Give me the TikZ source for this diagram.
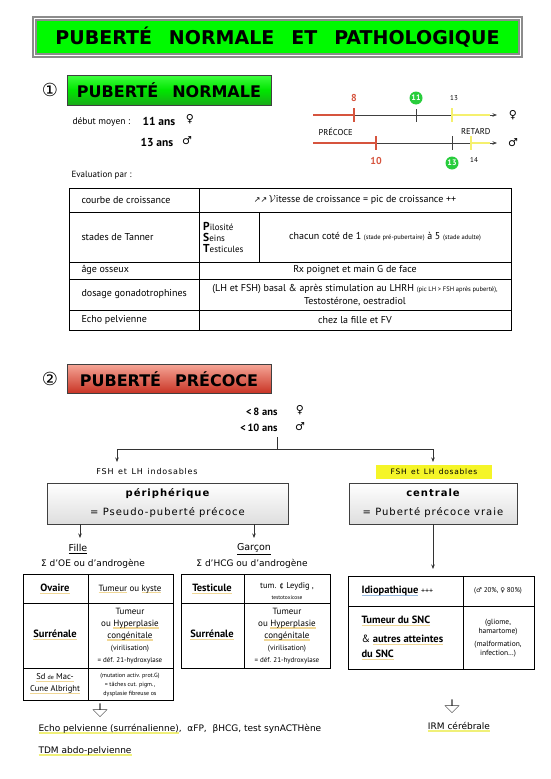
\documentclass[tikz,border=0pt]{standalone}
\usepackage{fontspec}
\usetikzlibrary{arrows.meta,shapes.arrows}
\setmainfont{PT Sans}
\newfontfamily\symf{DejaVu Sans}
\newfontfamily\luc{DejaVu Sans}
\newfontfamily\lucw[LetterSpace=10]{DejaVu Sans}
\newfontfamily\hdrf{DejaVu Sans}

\definecolor{titlegreen}{RGB}{0,250,0}
\definecolor{tlred}{RGB}{214,84,62}
\definecolor{tlyellow}{RGB}{245,240,110}
\definecolor{circgreen}{RGB}{40,205,60}
\definecolor{ulorange}{RGB}{240,215,150}
\definecolor{ulblue}{RGB}{150,185,225}
\definecolor{ulyellow}{RGB}{240,240,120}
\definecolor{hlyellow}{RGB}{245,245,40}

\newcommand\ulc[2]{\leavevmode\setbox0\hbox{#2}\rlap{\textcolor{#1}{\rule[-2.2pt]{\wd0}{1.3pt}}}\box0\relax}
\newcommand\ulo[1]{\ulc{ulorange}{#1}}
\newcommand\fs[1]{\fontsize{#1}{#1}\selectfont}

\tikzset{
  hdr/.style={draw=black!75, line width=.8pt, inner sep=0pt, minimum width=204pt, font=\hdrf\bfseries\fs{16}},
  graybox/.style={draw=black!75, line width=.8pt, top color=white, bottom color=black!13, inner sep=0pt, minimum height=41pt, align=center},
  arr/.style={draw=black!80, line width=.6pt, -{Stealth[length=4.5pt,width=3.5pt]}},
  hollow/.style={single arrow, draw=black!80, fill=white, shape border rotate=270, minimum height=13pt, minimum width=14pt, single arrow head extend=3.5pt, inner sep=0pt},
  tab/.style={line width=.9pt},
  circ/.style={circle, fill=circgreen, text=white, inner sep=0pt, minimum size=13pt, font=\bfseries\fs{8}},
}

\begin{document}
\begin{tikzpicture}[x=1pt,y=-1pt]
\useasboundingbox (0,0) rectangle (551,779);

\node[draw=black!45, line width=1.4pt, double=white, double distance=1.6pt, fill=titlegreen, minimum width=486pt, minimum height=37pt, inner sep=0pt] (title) at (277.5,37)
  {\hdrf\bfseries\fs{19}PUBERTÉ\hspace{17pt}NORMALE\hspace{17pt}ET\hspace{17pt}PATHOLOGIQUE};

\node[font=\symf\fs{18}] (one) at (50,90) {①};
\node[hdr, minimum height=30pt, top color=green!75!white, bottom color={rgb,255:red,25;green,170;blue,25}, middle color=green!90!black] (norm) at (169,90) {PUBERTÉ\hspace{14pt}NORMALE};

\node[anchor=west, font=\fs{9.5}] (debut) at (69,122) {début moyen :};
\node[anchor=west, font=\bfseries\fs{11.5}] (a11) at (139,121) {11 ans};
\node[font=\symf\fs{11}] (f1) at (190,119) {♀};
\node[anchor=west, font=\bfseries\fs{11.5}] (a13) at (137,142) {13 ans};
\node[font=\symf\fs{11}] (m1) at (187,141) {♂};

\draw[black!75, line width=.6pt, -{Stealth[length=4.5pt,width=3.5pt]}] (354,115) -- (497,115);
\draw[tlred, line width=2.2pt] (313,115) -- (354,115);
\draw[tlred, line width=1.2pt] (354,108) -- (354,122);
\draw[black!75, line width=.8pt] (416,109) -- (416,122);
\draw[tlyellow, line width=2.4pt] (452,115) -- (490,115);
\draw[tlyellow, line width=1.4pt] (452,108) -- (452,122);
\draw[black!75, line width=.6pt, -{Stealth[length=4.5pt,width=3.5pt]}] (376,143) -- (497,143);
\draw[tlred, line width=2.2pt] (313,143) -- (376,143);
\draw[tlred, line width=1.2pt] (376,136) -- (376,150);
\draw[black!75, line width=.8pt] (452,136) -- (452,150);
\draw[tlyellow, line width=2.4pt] (471,143) -- (490,143);
\draw[tlyellow, line width=1.4pt] (471,136) -- (471,150);
\node[text=tlred, font=\bfseries\fs{10}] (n8) at (354,98) {8};
\node[circ] (n11) at (416,98) {11};
\node[font=\fs{7}] (n13) at (454,98) {13};
\node[font=\symf\fs{11}] (f2) at (513,115) {♀};
\node[anchor=west, font=\fs{8.5}] (prec) at (315,132) {PRÉCOCE};
\node[anchor=east, font=\fs{8.5}] (ret) at (494,132) {RETARD};
\node[font=\symf\fs{11}] (m2) at (513,143) {♂};
\node[text=tlred, font=\bfseries\fs{10}] (n10) at (376,161) {10};
\node[circ] (c13) at (452,163) {13};
\node[font=\fs{7}] (n14) at (474,160) {14};

\node[anchor=west, font=\fs{9}] (eval) at (68,175) {Evaluation par :};

\draw[tab] (69,188) rectangle (511,330);
\draw[tab] (69,212) -- (511,212) (69,262) -- (511,262) (69,279) -- (511,279) (69,310) -- (511,310);
\draw[tab] (199,188) -- (199,330) (259,212) -- (259,262);
\begin{scope}[every node/.style={font=\fs{10}}]
\node[anchor=west] (cc) at (78,200) {courbe de croissance};
\node (vit) at (355,200) {{\symf\fs{8}↗↗}\,$\mathcal{V}$itesse de croissance = pic de croissance ++};
\node[anchor=west] (tan) at (78,237) {stades de Tanner};
\node[anchor=west, align=left, font=\fs{9}, inner sep=0pt] (pst) at (203,237) {{\bfseries\fs{11.5}P}ilosité\\[2pt]{\bfseries\fs{11.5}S}eins\\[2pt]{\bfseries\fs{11.5}T}esticules};
\node (chac) at (385,237) {chacun coté de 1 {\fs{6.5}(stade pré-pubertaire)} à 5 {\fs{6.5}(stade adulte)}};
\node[anchor=west] (os) at (78,270) {âge osseux};
\node (rx) at (355,270) {Rx poignet et main G de face};
\node[anchor=west] (gon) at (78,294) {dosage gonadotrophines};
\node[align=center, font=\fontsize{10}{12.5}\selectfont] (lh) at (355,295) {(LH et FSH) basal \& après stimulation au LHRH {\fs{6.5}(pic LH > FSH après puberté),}\\Testostérone, oestradiol};
\node[anchor=west] (ep) at (78,320) {Echo pelvienne};
\node (fv) at (355,320) {chez la fille et FV};
\end{scope}

\node[font=\symf\fs{18}] (two) at (50,379) {②};
\node[hdr, minimum height=29pt, top color={rgb,255:red,245;green,165;blue,150}, bottom color={rgb,255:red,200;green,50;blue,35}] (pp) at (169,379) {PUBERTÉ\hspace{14pt}PRÉCOCE};

\node[anchor=east, font=\bfseries\fs{10.5}] (lt8) at (281,412) {<\,8 ans};
\node[font=\symf\fs{11}] (f3) at (300,410) {♀};
\node[anchor=east, font=\bfseries\fs{10.5}] (lt10) at (281,428) {<\,10 ans};
\node[font=\symf\fs{11}] (m3) at (300,427) {♂};

\coordinate (top) at (277,437);
\coordinate (split) at (277,449);
\coordinate (pl) at (117,462);
\coordinate (pr) at (433,462);
\draw[draw=black!80, line width=.6pt] (top) -- (split);
\draw[arr] (split) -| (pl);
\draw[arr] (split) -| (pr);

\node[font=\lucw\fs{8}] (indos) at (147,472) {FSH\, et\, LH\, indosables};
\node[fill=hlyellow, minimum width=116pt, minimum height=14pt, inner sep=0pt, font=\lucw\fs{7.5}] (dos) at (434,472) {FSH\, et\, LH\, dosables};

\node[graybox, minimum width=241pt, font=\lucw\fontsize{10}{19}\selectfont] (peri) at (167.5,503.5) {{\bfseries périphérique}\\= Pseudo-puberté précoce};
\node[graybox, minimum width=168pt, font=\lucw\fontsize{10}{19}\selectfont] (cent) at (433,503.5) {{\bfseries centrale}\\= Puberté précoce vraie};

\coordinate (fa) at (80,538);
\coordinate (ga) at (254,538);
\coordinate (ca) at (433,569);
\draw[arr] (peri.south -| fa) -- (fa);
\draw[arr] (peri.south -| ga) -- (ga);
\draw[arr] (cent.south) -- (ca);

\node[font=\luc\fs{9.5}] (fille) at (78,549) {\underline{Fille}};
\node[font=\luc\fs{9}] (sfil) at (93,564) {Σ d’OE ou d’androgène};
\node[font=\luc\fs{9.5}] (garc) at (254,549) {\underline{Garçon}};
\node[font=\luc\fs{9}] (sgar) at (252,564) {Σ d’HCG ou d’androgène};

\draw[tab] (23,574) rectangle (173,700);
\draw[tab] (23,603) -- (173,603) (23,668) -- (173,668) (88,574) -- (88,700);
\draw[tab] (181,574) rectangle (330,668);
\draw[tab] (181,603) -- (330,603) (244,574) -- (244,668);
\draw[tab] (348,576) rectangle (534,669);
\draw[tab] (348,606) -- (534,606) (463,576) -- (463,669);

\node[font=\bfseries\fs{10.5}] (ov) at (55,589) {\ulo{Ovaire}};
\node[font=\fs{9}] (ovt) at (130,589) {\ulo{Tumeur} ou \ulo{kyste}};
\node[font=\bfseries\fs{10.5}] (sf) at (55,635) {\ulo{Surrénale}};
\node[align=center, font=\fontsize{9}{12}\selectfont] (sft) at (130,636) {Tumeur\\ou \ulo{Hyperplasie}\\\ulo{congénitale}\\{\fs{7.5}(virilisation)}\\{\fs{7}= déf. 21-hydroxylase}};
\node[align=center, font=\fontsize{8.5}{12}\selectfont] (mac) at (55,684) {\ulo{Sd {\fs{6}de} Mac-}\\\ulo{Cune Albright}};
\node[align=center, font=\fontsize{6}{9}\selectfont] (mact) at (130,685) {(mutation activ. prot.G)\\= tâches cut. pigm.,\\dysplasie fibreuse os};

\node[font=\bfseries\fs{10.5}] (tes) at (212,589) {\ulo{Testicule}};
\node[align=center, font=\fontsize{8.5}{11}\selectfont] (test) at (287,591) {tum. ¢ Leydig ,\\{\fs{5.5}testotoxicose}};
\node[font=\bfseries\fs{10.5}] (sg) at (212,635) {\ulo{Surrénale}};
\node[align=center, font=\fontsize{9}{12}\selectfont] (sgt) at (287,636) {Tumeur\\ou \ulo{Hyperplasie}\\\ulo{congénitale}\\{\fs{7.5}(virilisation)}\\{\fs{7}= déf. 21-hydroxylase}};

\node[anchor=west, font=\fs{10.5}] (idio) at (358,591) {\ulc{ulblue}{\bfseries Idiopathique} {\fs{8}+++}};
\node[font=\fs{7}] (pct) at (498,591) {({\symf\fs{6.5}♂} 20\%, {\symf\fs{6.5}♀} 80\%)};
\node[anchor=west, align=left, font=\fontsize{10.5}{15}\selectfont] (snc) at (358,638) {\ulo{\bfseries Tumeur du SNC}\\[4pt]\& \ulo{\bfseries autres atteintes}\\\ulo{\bfseries du SNC}};
\node[align=center, font=\fontsize{7.5}{8.5}\selectfont] (sncr) at (498,638) {(gliome,\\hamartome)\\[5pt](malformation,\\infection…)};

\node[hollow] (hf) at (100,710) {};
\node[anchor=west, font=\luc\fs{9}] (echo) at (35,729) {\ulc{ulyellow}{Echo pelvienne (surrénalienne)},\ \ αFP,\ \ βHCG, test synACTHène};
\node[anchor=west, font=\luc\fs{9}] (tdm) at (35,751) {\ulc{ulyellow}{TDM abdo-pelvienne}};
\node[hollow] (hc) at (452,706) {};
\node[font=\luc\fs{9}] (irm) at (459,727) {\ulc{ulyellow}{IRM cérébrale}};
\end{tikzpicture}
\end{document}
